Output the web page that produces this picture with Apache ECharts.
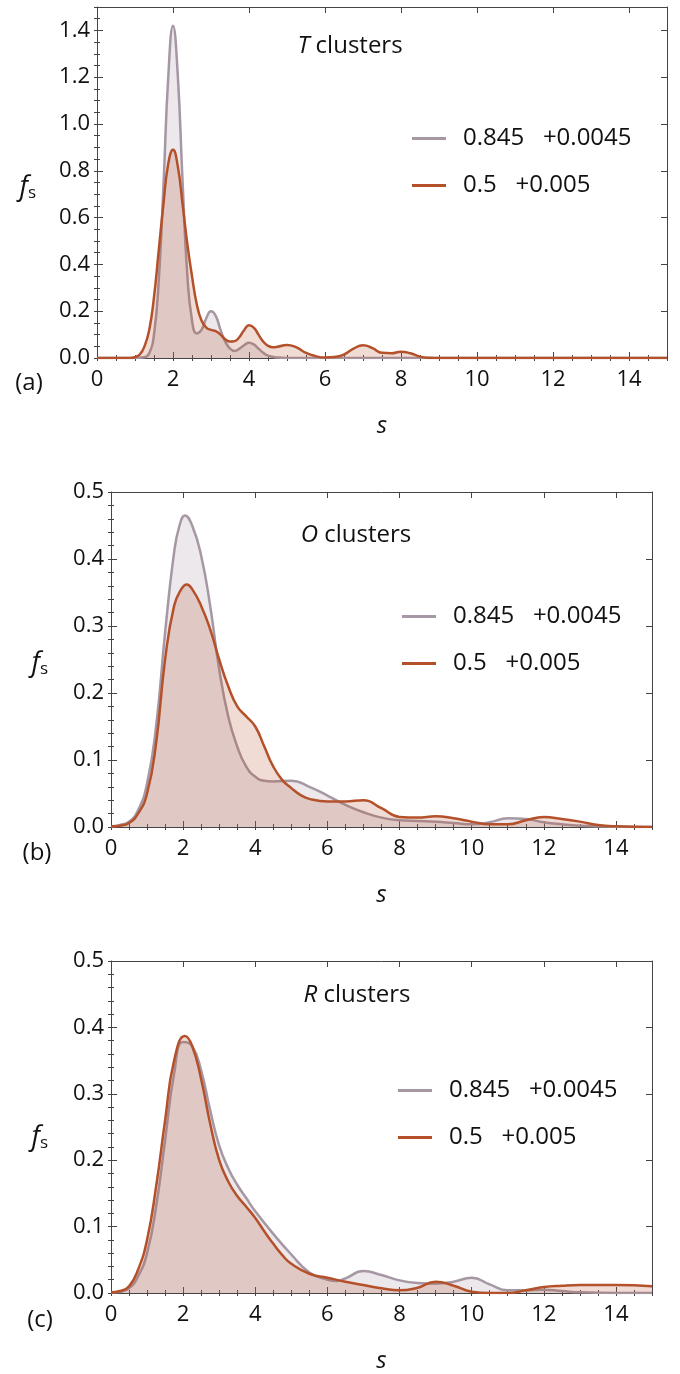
<!DOCTYPE html>
<html><head><meta charset="utf-8">
<script src="https://cdn.jsdelivr.net/npm/echarts@6/dist/echarts.min.js"></script>
<style>html,body{margin:0;padding:0;background:#fff}#c{width:680px;height:1374px}</style>
</head><body><div id="c"></div>
<script>
// ---------- data ----------
const seriesNames = ['0.845   +0.0045', '0.5   +0.005'];
const panelLetters = ['T', 'O', 'R'];
const panelTags = ['(a)', '(b)', '(c)'];
const yMax = [1.5, 0.5, 0.5];
const yMajor = [0.2, 0.1, 0.1];
const yMinor = [0.05, 0.02, 0.02];
const xMax = 15, xMajor = 2, xMinor = 0.5;

// (a) T clusters
const aGreyX = [0, 1.0, 1.25, 1.375, 1.5, 1.625, 1.75, 1.875, 2.0, 2.125, 2.25, 2.375, 2.5, 2.625, 2.75, 2.875, 3.0, 3.125, 3.25, 3.375, 3.5, 3.625, 3.75, 3.875, 4.0, 4.125, 4.25, 4.375, 4.5, 4.75, 5.0, 15];
const aGreyY = [0, 0, 0.003, 0.02, 0.1, 0.33, 0.74, 1.2, 1.42, 1.21, 0.76, 0.36, 0.16, 0.105, 0.12, 0.17, 0.2, 0.18, 0.12, 0.07, 0.04, 0.03, 0.04, 0.055, 0.065, 0.058, 0.04, 0.022, 0.01, 0.002, 0, 0];
const aOrangeX = [0, 0.875, 1.0, 1.125, 1.25, 1.375, 1.5, 1.625, 1.75, 1.875, 2.0, 2.125, 2.25, 2.375, 2.5, 2.625, 2.75, 2.875, 3.0, 3.125, 3.25, 3.375, 3.5, 3.625, 3.75, 3.875, 4.0, 4.125, 4.25, 4.375, 4.5, 4.625, 4.75, 5.0, 5.25, 5.5, 5.75, 6.0, 6.25, 6.5, 6.75, 7.0, 7.25, 7.5, 7.75, 8.0, 8.25, 8.5, 8.75, 9.0, 15];
const aOrangeY = [0, 0, 0.004, 0.015, 0.05, 0.12, 0.26, 0.46, 0.66, 0.83, 0.89, 0.82, 0.66, 0.49, 0.35, 0.23, 0.16, 0.13, 0.12, 0.115, 0.1, 0.08, 0.07, 0.072, 0.09, 0.12, 0.14, 0.13, 0.1, 0.07, 0.052, 0.046, 0.048, 0.056, 0.045, 0.022, 0.008, 0.002, 0.004, 0.015, 0.04, 0.055, 0.042, 0.022, 0.02, 0.027, 0.02, 0.006, 0.001, 0, 0];

// (b) O clusters
const bGreyX = [0, 0.25, 0.5, 0.75, 1.0, 1.25, 1.5, 1.75, 1.9, 2.05, 2.25, 2.5, 2.75, 3.0, 3.25, 3.5, 3.75, 4.0, 4.25, 4.5, 5.0, 5.5, 6.0, 6.5, 7.0, 7.5, 8.0, 8.5, 9.0, 9.5, 10.0, 10.5, 11.0, 11.5, 12.0, 12.5, 13.0, 14.0, 15.0];
const bGreyY = [0.001, 0.003, 0.008, 0.025, 0.065, 0.15, 0.29, 0.41, 0.45, 0.465, 0.45, 0.405, 0.33, 0.235, 0.165, 0.12, 0.09, 0.075, 0.069, 0.068, 0.069, 0.06, 0.047, 0.033, 0.022, 0.014, 0.01, 0.009, 0.008, 0.006, 0.004, 0.007, 0.013, 0.012, 0.007, 0.004, 0.002, 0.0005, 0];
const bOrangeX = [0, 0.25, 0.5, 0.75, 1.0, 1.25, 1.5, 1.75, 1.95, 2.1, 2.25, 2.5, 2.75, 3.0, 3.25, 3.5, 3.75, 4.0, 4.25, 4.5, 4.75, 5.0, 5.25, 5.5, 6.0, 6.5, 7.0, 7.5, 8.0, 8.5, 9.0, 9.5, 10.0, 10.5, 11.0, 11.5, 12.0, 12.5, 13.0, 13.5, 14.0, 15.0];
const bOrangeY = [0.001, 0.002, 0.006, 0.02, 0.05, 0.125, 0.25, 0.33, 0.355, 0.362, 0.355, 0.33, 0.295, 0.25, 0.21, 0.18, 0.165, 0.15, 0.12, 0.09, 0.07, 0.058, 0.048, 0.042, 0.038, 0.038, 0.04, 0.028, 0.015, 0.014, 0.016, 0.013, 0.008, 0.004, 0.004, 0.01, 0.015, 0.012, 0.008, 0.003, 0.001, 0];

// (c) R clusters
const cGreyX = [0, 0.25, 0.5, 0.75, 1.0, 1.25, 1.5, 1.75, 2.0, 2.25, 2.5, 2.75, 3.0, 3.25, 3.5, 3.75, 4.0, 4.5, 5.0, 5.5, 6.0, 6.25, 6.5, 7.0, 7.5, 8.0, 8.5, 9.0, 9.5, 10.0, 10.5, 11.0, 11.5, 12.0, 12.5, 13.0, 14.0, 15.0];
const cGreyY = [0.001, 0.002, 0.007, 0.025, 0.06, 0.13, 0.23, 0.33, 0.378, 0.372, 0.335, 0.275, 0.222, 0.188, 0.163, 0.143, 0.123, 0.089, 0.058, 0.031, 0.02, 0.018, 0.022, 0.033, 0.027, 0.019, 0.015, 0.014, 0.017, 0.023, 0.013, 0.004, 0.004, 0.005, 0.003, 0.001, 0, 0];
const cOrangeX = [0, 0.25, 0.5, 0.75, 1.0, 1.25, 1.5, 1.75, 2.05, 2.25, 2.5, 2.75, 3.0, 3.25, 3.5, 3.75, 4.0, 4.25, 4.5, 4.75, 5.0, 5.5, 6.0, 6.5, 7.0, 7.5, 8.0, 8.5, 9.0, 9.5, 10.0, 10.5, 11.0, 11.5, 12.0, 12.5, 13.0, 14.0, 15.0];
const cOrangeY = [0.001, 0.003, 0.01, 0.035, 0.08, 0.16, 0.26, 0.35, 0.387, 0.372, 0.322, 0.255, 0.2, 0.168, 0.146, 0.13, 0.113, 0.093, 0.074, 0.057, 0.044, 0.029, 0.023, 0.017, 0.012, 0.007, 0.004, 0.008, 0.017, 0.011, 0.002, 0.0, 0.0, 0.004, 0.009, 0.011, 0.012, 0.012, 0.01];

const panelData = [
  [[aGreyX, aGreyY], [aOrangeX, aOrangeY]],
  [[bGreyX, bGreyY], [bOrangeX, bOrangeY]],
  [[cGreyX, cGreyY], [cOrangeX, cOrangeY]]
];

// ---------- layout & style ----------
const FONT = '"Open Sans", sans-serif';
const lineColors = ['#a697a4', '#b4512b'];
const areaColors = ['rgba(160,140,158,0.2)', 'rgba(181,80,42,0.2)'];
const axisColor = '#444';
const grids = [
  {left: 97, top: 7, width: 570, height: 351},
  {left: 111, top: 492, width: 541, height: 335},
  {left: 111, top: 961, width: 541, height: 335}
];
const legendPos = [
  {left: 412, top: 125},
  {left: 402, top: 603},
  {left: 398, top: 1077}
];
const titlePos = [[350, 46], [356, 535], [357, 995]];
const tagPos = [[29, 383], [37, 853], [40, 1320]];
const fPos = [[28, 187], [40, 663], [40, 1137]];

const xAxes = [], yAxes = [], series = [], legends = [], graphics = [];

grids.forEach((g, i) => {
  const tickStyle = {color: axisColor, width: 1};
  xAxes.push({gridIndex: i, type: 'value', position: 'bottom', min: 0, max: xMax, interval: xMajor,
    axisLine: {show: true, onZero: false, lineStyle: {color: axisColor, width: 1}},
    axisTick: {show: true, inside: true, length: 6, lineStyle: tickStyle},
    axisLabel: {show: true, margin: 11, fontSize: 22, color: '#111', fontFamily: FONT, showMaxLabel: false},
    splitLine: {show: false},
    name: 's', nameLocation: 'middle', nameGap: 56,
    nameTextStyle: {fontSize: 24, fontStyle: 'italic', color: '#111', fontFamily: FONT}
  });
  xAxes.push({gridIndex: i, type: 'value', position: 'bottom', min: 0, max: xMax, interval: xMinor,
    axisLine: {show: false}, axisTick: {show: true, inside: true, length: 3, lineStyle: tickStyle},
    axisLabel: {show: false}, splitLine: {show: false}});
  xAxes.push({gridIndex: i, type: 'value', position: 'top', min: 0, max: xMax, interval: xMajor,
    axisLine: {show: true, onZero: false, lineStyle: {color: axisColor, width: 1}},
    axisTick: {show: true, inside: true, length: 6, lineStyle: tickStyle},
    axisLabel: {show: false}, splitLine: {show: false}});
  xAxes.push({gridIndex: i, type: 'value', position: 'top', min: 0, max: xMax, interval: xMinor,
    axisLine: {show: false}, axisTick: {show: true, inside: true, length: 3, lineStyle: tickStyle},
    axisLabel: {show: false}, splitLine: {show: false}});

  yAxes.push({gridIndex: i, type: 'value', position: 'left', min: 0, max: yMax[i], interval: yMajor[i],
    axisLine: {show: true, onZero: false, lineStyle: {color: axisColor, width: 1}},
    axisTick: {show: true, inside: true, length: 6, lineStyle: tickStyle},
    axisLabel: {show: true, margin: 7, fontSize: 22, color: '#111', fontFamily: FONT,
      showMaxLabel: i !== 0, formatter: v => v.toFixed(1)},
    splitLine: {show: false}});
  yAxes.push({gridIndex: i, type: 'value', position: 'left', min: 0, max: yMax[i], interval: yMinor[i],
    axisLine: {show: false}, axisTick: {show: true, inside: true, length: 3, lineStyle: tickStyle},
    axisLabel: {show: false}, splitLine: {show: false}});
  yAxes.push({gridIndex: i, type: 'value', position: 'right', min: 0, max: yMax[i], interval: yMajor[i],
    axisLine: {show: true, onZero: false, lineStyle: {color: axisColor, width: 1}},
    axisTick: {show: true, inside: true, length: 6, lineStyle: tickStyle},
    axisLabel: {show: false}, splitLine: {show: false}});
  yAxes.push({gridIndex: i, type: 'value', position: 'right', min: 0, max: yMax[i], interval: yMinor[i],
    axisLine: {show: false}, axisTick: {show: true, inside: true, length: 3, lineStyle: tickStyle},
    axisLabel: {show: false}, splitLine: {show: false}});

  panelData[i].forEach((xy, k) => {
    const [xs, ys] = xy;
    series.push({
      type: 'line', name: seriesNames[k], xAxisIndex: 4 * i, yAxisIndex: 4 * i,
      data: xs.map((x, j) => [x, ys[j]]),
      smooth: 0.5, showSymbol: false, symbol: 'none',
      itemStyle: {color: lineColors[k]},
      lineStyle: {color: lineColors[k], width: 2.5},
      areaStyle: {color: areaColors[k], opacity: 1},
      z: 2 + k, silent: true, animation: false
    });
  });

  legends.push({
    data: seriesNames, orient: 'vertical', left: legendPos[i].left, top: legendPos[i].top,
    icon: 'rect', itemWidth: 34, itemHeight: 3, itemGap: 20, padding: 0,
    textStyle: {fontSize: 24, color: '#111', fontFamily: FONT, lineHeight: 27, padding: [0, 0, 0, 12]},
    selectedMode: false
  });

  graphics.push({
    type: 'text', x: titlePos[i][0], y: titlePos[i][1],
    style: {text: '{i|' + panelLetters[i] + '} clusters', textAlign: 'center', textVerticalAlign: 'middle',
      fontSize: 24, fill: '#111', fontFamily: FONT,
      rich: {i: {fontStyle: 'italic', fontSize: 24, fontFamily: FONT, fill: '#111'}}}
  });
  graphics.push({
    type: 'text', x: tagPos[i][0], y: tagPos[i][1],
    style: {text: panelTags[i], textAlign: 'center', textVerticalAlign: 'middle',
      fontSize: 24, fill: '#111', fontFamily: FONT}
  });
  graphics.push({
    type: 'text', x: fPos[i][0], y: fPos[i][1],
    style: {text: 'f', textAlign: 'right', textVerticalAlign: 'middle',
      fontSize: 27, fontStyle: 'italic', fill: '#111', fontFamily: FONT}
  });
  graphics.push({
    type: 'text', x: fPos[i][0], y: fPos[i][1] + 6,
    style: {text: 's', textAlign: 'left', textVerticalAlign: 'middle',
      fontSize: 17, fill: '#111', fontFamily: FONT}
  });
});

const chart = echarts.init(document.getElementById('c'), null, {renderer: 'canvas'});
chart.setOption({
  animation: false,
  backgroundColor: '#fff',
  grid: grids.map(g => Object.assign({containLabel: false}, g)),
  xAxis: xAxes, yAxis: yAxes, series: series, legend: legends, graphic: graphics
});
</script>
</body></html>
